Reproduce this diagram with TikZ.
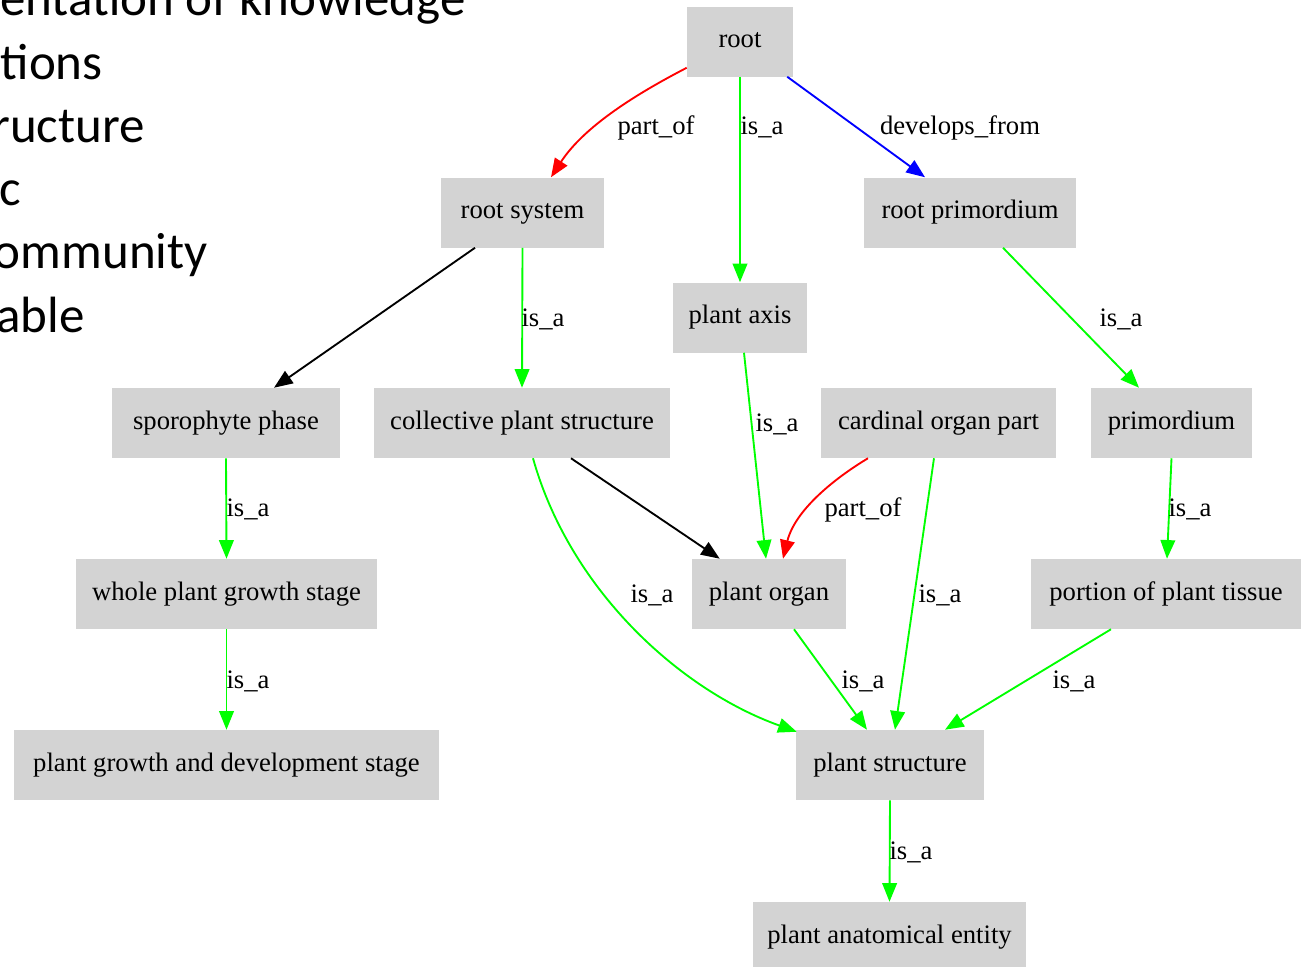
\documentclass[tikz,border=0pt]{standalone}
\usepackage{fontspec}
\setmainfont{Liberation Serif}
\newfontfamily\slidefont{Carlito}
\usetikzlibrary{arrows.meta,calc}
\definecolor{boxgray}{HTML}{D3D3D3}
\definecolor{gvgreen}{HTML}{00FF00}
\definecolor{gvred}{HTML}{FF0000}
\definecolor{gvblue}{HTML}{0000FF}
\begin{document}
\begin{tikzpicture}[x=0.75pt,y=-0.75pt,
  box/.style={fill=boxgray, inner sep=0pt, minimum height=52.5pt,
    font=\fontsize{20}{24}\selectfont, text height=13pt, text depth=4pt},
  lbl/.style={inner sep=0pt, anchor=base, font=\fontsize{20}{24}\selectfont},
  edge/.style={line width=1.4pt, -{Triangle[length=14pt,width=11pt]}},
  isa/.style={edge, draw=gvgreen},
  partof/.style={edge, draw=gvred},
  devfrom/.style={edge, draw=gvblue},
  plainedge/.style={edge, draw=black},
  slide/.style={font=\slidefont\fontsize{38.25}{46}\selectfont, anchor=base east, inner sep=0pt}]
\clip (0,0) rectangle (1307,967);
\fill[white] (0,0) rectangle (1307,967);

% slide text (cut at the left edge)
\node[slide] (t1) at (466,15) {entation of knowledge};
\node[slide] (t2) at (103,79) {tions};
\node[slide] (t3) at (145,142) {ructure};
\node[slide] (t4) at (21,205) {c};
\node[slide] (t5) at (208,268) {ommunity};
\node[slide] (t6) at (85,332) {able};

% nodes
\node[box, minimum width=79.5pt]  (root) at (740,41.5)   {root};
\node[box, minimum width=122pt]   (rs)   at (522.5,212.5) {root system};
\node[box, minimum width=159pt]   (rp)   at (970,212.5)  {root primordium};
\node[box, minimum width=100.5pt] (pa)   at (740,317.5)  {plant axis};
\node[box, minimum width=171pt]   (sp)   at (226,423)    {sporophyte phase};
\node[box, minimum width=222pt]   (cps)  at (522,423)    {collective plant structure};
\node[box, minimum width=176pt]   (cop)  at (938.5,423)  {cardinal organ part};
\node[box, minimum width=121pt]   (pr)   at (1171.5,423) {primordium};
\node[box, minimum width=226pt]   (wpg)  at (226.5,594)  {whole plant growth stage};
\node[box, minimum width=115.5pt] (po)   at (769,594)    {plant organ};
\node[box, minimum width=202.5pt] (ppt)  at (1166,594)   {portion of plant tissue};
\node[box, minimum width=319pt]   (pgd)  at (226.5,765)  {plant growth and development stage};
\node[box, minimum width=141pt]   (ps)   at (890,765)    {plant structure};
\node[box, minimum width=205pt]   (pae)  at (889.5,937)  {plant anatomical entity};

% edges
\draw[partof] ($(root.south west)+(0,-9)$) .. controls (640,92) and (585,125) .. ($(rs.north)+(28.5,0)$);
\draw[isa] (root.south) -- (pa.north);
\draw[devfrom] ($(root.south east)+(-6,0)$) -- ($(rp.north)+(-45,0)$);
\draw[plainedge] ($(rs.south)+(-47.5,0)$) -- ($(sp.north)+(48,0)$);
\draw[isa] (rs.south) -- (cps.north);
\draw[isa] ($(pa.south)+(4,0)$) -- ($(po.north)+(-3,0)$);
\draw[isa] ($(rp.south)+(33,0)$) -- ($(pr.north)+(-32.5,0)$);
\draw[isa] (sp.south) -- (wpg.north);
\draw[isa] (wpg.south) -- (pgd.north);
\draw[plainedge] ($(cps.south)+(49,0)$) -- ($(po.north west)+(28,0)$);
\draw[isa] ($(cps.south)+(11,0)$) .. controls (570,590) and (680,690) .. ($(ps.north west)+(1,2)$);
\draw[partof] ($(cop.south)+(-70.5,0)$) .. controls (835,478) and (795,510) .. ($(po.north)+(14,0)$);
\draw[isa] ($(cop.south)+(-4.5,0)$) -- ($(ps.north)+(5,0)$);
\draw[isa] (pr.south) -- ($(ppt.north)+(1,0)$);
\draw[isa] ($(po.south)+(25,0)$) -- ($(ps.north)+(-23,0)$);
\draw[isa] ($(ppt.south)+(-55,0)$) -- ($(ps.north)+(55,0)$);
\draw[isa] (ps.south) -- (pae.north);

% edge labels
\node[lbl] (l1)  at (656,134)  {part\_of};
\node[lbl] (l2)  at (762,134)  {is\_a};
\node[lbl] (l3)  at (960,134)  {develops\_from};
\node[lbl] (l4)  at (543,326)  {is\_a};
\node[lbl] (l5)  at (1121,326) {is\_a};
\node[lbl] (l6)  at (777,431)  {is\_a};
\node[lbl] (l7)  at (248,516)  {is\_a};
\node[lbl] (l8)  at (863,516)  {part\_of};
\node[lbl] (l9)  at (1190,516) {is\_a};
\node[lbl] (l10) at (652,602)  {is\_a};
\node[lbl] (l11) at (940,602)  {is\_a};
\node[lbl] (l12) at (248,688)  {is\_a};
\node[lbl] (l13) at (863,688)  {is\_a};
\node[lbl] (l14) at (1074,688) {is\_a};
\node[lbl] (l15) at (911,859)  {is\_a};
\end{tikzpicture}
\end{document}
